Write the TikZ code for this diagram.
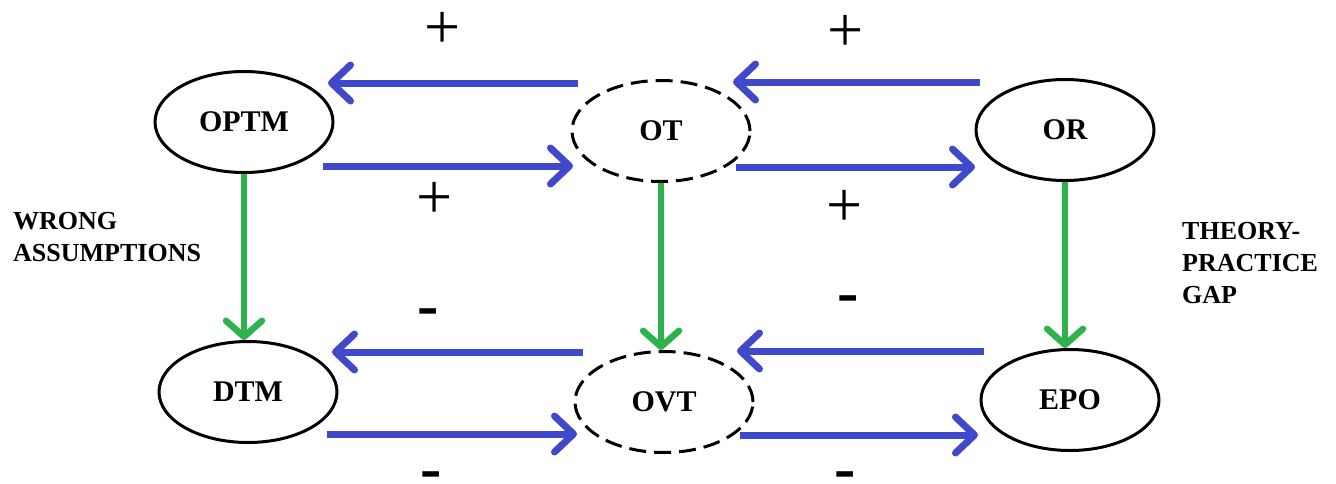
\documentclass[tikz,border=0pt]{standalone}
\usepackage{fontspec}
\setmainfont{Liberation Serif}
\usetikzlibrary{arrows.meta,calc,shapes.geometric}

\definecolor{flowblue}{RGB}{64,72,204}
\definecolor{flowgreen}{RGB}{46,178,76}

% signs set in tight boxes so that the node centre is the glyph centre
\newcommand{\plusmark}{\raisebox{-18pt}[5pt][5pt]{+}}
\newcommand{\minusmark}{\raisebox{-16pt}[4pt][4pt]{-}}

\tikzset{
  state/.style={ellipse, draw=black, line width=3pt, minimum width=178pt,
    minimum height=101pt, inner sep=0pt,
    font=\bfseries\fontsize{30}{36}\selectfont},
  hidden/.style={state, dash pattern=on 17pt off 8pt},
  barrow/.style={draw=flowblue, line width=7pt,
    -{Straight Barb[length=19pt,width=36pt,round]}},
  garrow/.style={draw=flowgreen, line width=6.5pt,
    -{Straight Barb[length=16pt,width=36pt,round]}},
  plussign/.style={inner sep=0pt, font=\fontsize{64}{64}\selectfont},
  minussign/.style={inner sep=0pt, font=\bfseries\fontsize{64}{64}\selectfont},
  sidenote/.style={inner sep=0pt, anchor=north west, align=left,
    font=\bfseries\fontsize{26}{32}\selectfont}
}

\begin{document}
\begin{tikzpicture}[x=1pt,y=-1pt]
\useasboundingbox (0,0) rectangle (1336,483);

% the six states
\node[state]  (OPTM) at (244,122) {OPTM};
\node[hidden] (OT)   at (661,131) {OT};
\node[state]  (OR)   at (1065,130) {OR};
\node[state]  (DTM)  at (248,392) {DTM};
\node[hidden] (OVT)  at (664,402) {OVT};
\node[state]  (EPO)  at (1070,400) {EPO};

% upper row of links
\draw[barrow] ($(OT.center)+(-83,-48)$) -- ($(OPTM.center)+(84,-39)$);
\draw[barrow] ($(OPTM.center)+(79,44)$) -- ($(OT.center)+(-88,35)$);
\draw[barrow] ($(OR.center)+(-85,-48)$) -- ($(OT.center)+(72,-49)$);
\draw[barrow] ($(OT.center)+(75,36)$) -- ($(OR.center)+(-90,37)$);

% lower row of links
\draw[barrow] ($(OVT.center)+(-81,-50)$) -- ($(DTM.center)+(84,-40)$);
\draw[barrow] ($(DTM.center)+(79,42)$) -- ($(OVT.center)+(-87,32)$);
\draw[barrow] ($(EPO.center)+(-86,-49)$) -- ($(OVT.center)+(73,-51)$);
\draw[barrow] ($(OVT.center)+(76,33)$) -- ($(EPO.center)+(-92,35)$);

% vertical links
\draw[garrow] (OPTM.south) -- (OPTM.south |- DTM.north);
\draw[garrow] (OT.south) -- (OT.south |- OVT.north);
\draw[garrow] (OR.south) -- (OR.south |- EPO.north);

% signs on the links
\node[plussign]  (p1) at (443,30)  {\plusmark};
\node[plussign]  (p2) at (435,200) {\plusmark};
\node[plussign]  (p3) at (846,33)  {\plusmark};
\node[plussign]  (p4) at (845,208) {\plusmark};
\node[minussign] (m1) at (428,310) {\minusmark};
\node[minussign] (m2) at (848,297) {\minusmark};
\node[minussign] (m3) at (431,473) {\minusmark};
\node[minussign] (m4) at (845,473) {\minusmark};

% side notes
\node[sidenote] (wrong) at (13,212) {WRONG\\ASSUMPTIONS};
\node[sidenote] (gap)   at (1182,222) {THEORY-\\PRACTICE\\GAP};
\end{tikzpicture}
\end{document}
